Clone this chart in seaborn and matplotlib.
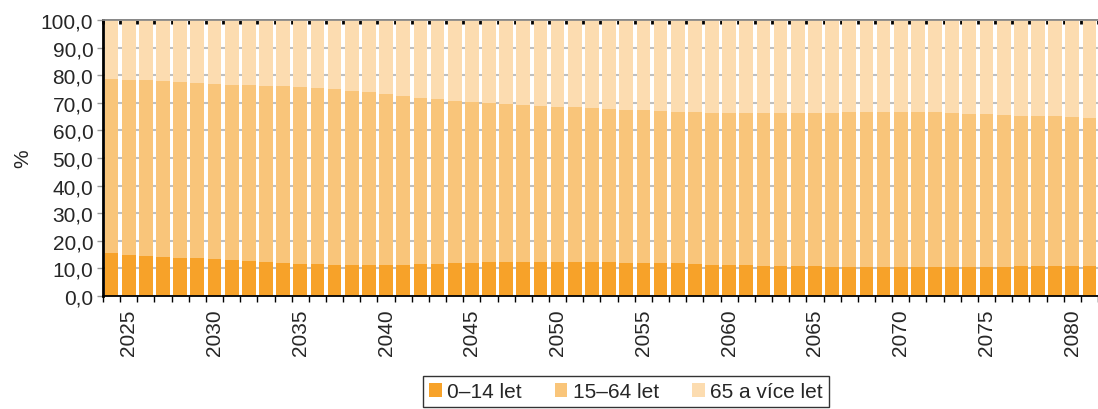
import numpy as np
import pandas as pd
import matplotlib.pyplot as plt
import seaborn as sns
from matplotlib.patches import Patch

# podíl věkových skupin (%)
years = list(range(2024, 2082))
age_0_14 = [15.5, 15.0, 14.5, 14.1, 13.9, 13.7, 13.4, 13.1, 12.7, 12.3,
            12.0, 11.7, 11.6, 11.3, 11.2, 11.2, 11.3, 11.3, 11.6, 11.7,
            11.9, 12.0, 12.2, 12.2, 12.3, 12.3, 12.3, 12.3, 12.3, 12.2,
            12.0, 12.0, 11.9, 11.8, 11.6, 11.4, 11.3, 11.1, 10.9, 10.8,
            10.8, 10.7, 10.6, 10.6, 10.4, 10.4, 10.4, 10.4, 10.4, 10.4,
            10.5, 10.6, 10.6, 10.7, 10.8, 10.8, 10.9, 10.9]
age_15_64 = [63.1, 63.4, 63.7, 63.8, 63.6, 63.6, 63.5, 63.5, 63.7, 63.9,
             64.0, 63.9, 63.8, 63.6, 63.2, 62.7, 61.9, 61.3, 60.1, 59.6,
             58.8, 58.2, 57.6, 57.4, 56.9, 56.5, 56.3, 56.1, 55.8, 55.6,
             55.4, 55.3, 55.1, 55.0, 54.9, 54.9, 54.9, 55.1, 55.3, 55.5,
             55.5, 55.7, 55.8, 55.9, 56.3, 56.3, 56.3, 56.3, 56.1, 55.9,
             55.6, 55.2, 55.0, 54.6, 54.4, 54.3, 54.0, 53.6]
age_65_plus = [21.4, 21.6, 21.8, 22.1, 22.5, 22.7, 23.1, 23.4, 23.6, 23.8,
               24.0, 24.4, 24.6, 25.1, 25.6, 26.1, 26.8, 27.4, 28.3, 28.7,
               29.3, 29.8, 30.2, 30.4, 30.8, 31.2, 31.4, 31.6, 31.9, 32.2,
               32.6, 32.7, 33.0, 33.2, 33.5, 33.7, 33.8, 33.8, 33.8, 33.7,
               33.7, 33.6, 33.6, 33.5, 33.3, 33.3, 33.3, 33.3, 33.5, 33.7,
               33.9, 34.2, 34.4, 34.7, 34.8, 34.9, 35.1, 35.5]
labels = ['0–14 let', '15–64 let', '65 a více let']
colors = ['#F7A229', '#F9C57A', '#FCDCB0']

df = pd.DataFrame({'rok': [str(y) for y in years],
                   'young': age_0_14, 'work': age_15_64, 'old': age_65_plus})

sns.set_theme(style='white')
plt.rcParams['font.family'] = ['Liberation Sans', 'DejaVu Sans']
fs = 15

fig = plt.figure(figsize=(10.98, 4.10), dpi=100)
ax = fig.add_axes([0.0938, 0.2756, 0.9062, 0.6732])

b2 = df['young'].values
b3 = b2 + df['work'].values
sns.barplot(data=df, x='rok', y='young', color=colors[0], saturation=1,
            width=0.8, errorbar=None, linewidth=0, ax=ax)
sns.barplot(data=df, x='rok', y='work', bottom=b2, color=colors[1], saturation=1,
            width=0.8, errorbar=None, linewidth=0, ax=ax)
sns.barplot(data=df, x='rok', y='old', bottom=b3, color=colors[2], saturation=1,
            width=0.8, errorbar=None, linewidth=0, ax=ax)

# axes
ax.set_xlim(-0.5, 56.9)
ax.set_ylim(0, 100)
ax.set_yticks(range(0, 101, 10))
ax.set_yticklabels([f'{v:.1f}'.replace('.', ',') for v in range(0, 101, 10)], fontsize=fs)
major = [i for i, y in enumerate(years) if y % 5 == 0]
ax.set_xticks(major)
ax.set_xticklabels([str(years[i]) for i in major], rotation=90, fontsize=fs)
ax.set_xticks(np.arange(-0.5, len(years), 1), minor=True)
ax.tick_params(axis='x', which='major', length=0, pad=9)
ax.tick_params(axis='x', which='minor', length=4, width=1, color='black',
               direction='out', bottom=True)
ax.tick_params(axis='y', length=4, width=1, color='#999999', left=True, pad=3)
ax.set_xlabel('')
ax.set_ylabel('%', fontsize=fs, labelpad=6)

top = ax.secondary_xaxis('top')
top.set_xticks(np.arange(-0.5, len(years), 1))
top.tick_params(direction='in', length=3, width=2, color='black', labeltop=False)
top.spines['top'].set_color('#888888')

ax.yaxis.grid(True, color='#BFBFBF', linewidth=1.5)
ax.set_axisbelow(True)
ax.spines['left'].set_color('black')
ax.spines['left'].set_linewidth(2)
ax.spines['bottom'].set_color('black')
ax.spines['bottom'].set_linewidth(1.3)
ax.spines['top'].set_color('#888888')
ax.spines['right'].set_visible(False)

handles = [Patch(facecolor=c, edgecolor='none', label=l) for c, l in zip(colors, labels)]
leg = fig.legend(handles=handles, loc='upper center', bbox_to_anchor=(0.57, 0.0805),
                 ncol=3, fontsize=fs, frameon=True, fancybox=False, edgecolor='black',
                 handlelength=0.6, handleheight=0.6, handletextpad=0.25,
                 columnspacing=1.6, borderpad=0.3, borderaxespad=0)
leg.get_frame().set_linewidth(1)

fig.savefig('out.png', dpi=100)
